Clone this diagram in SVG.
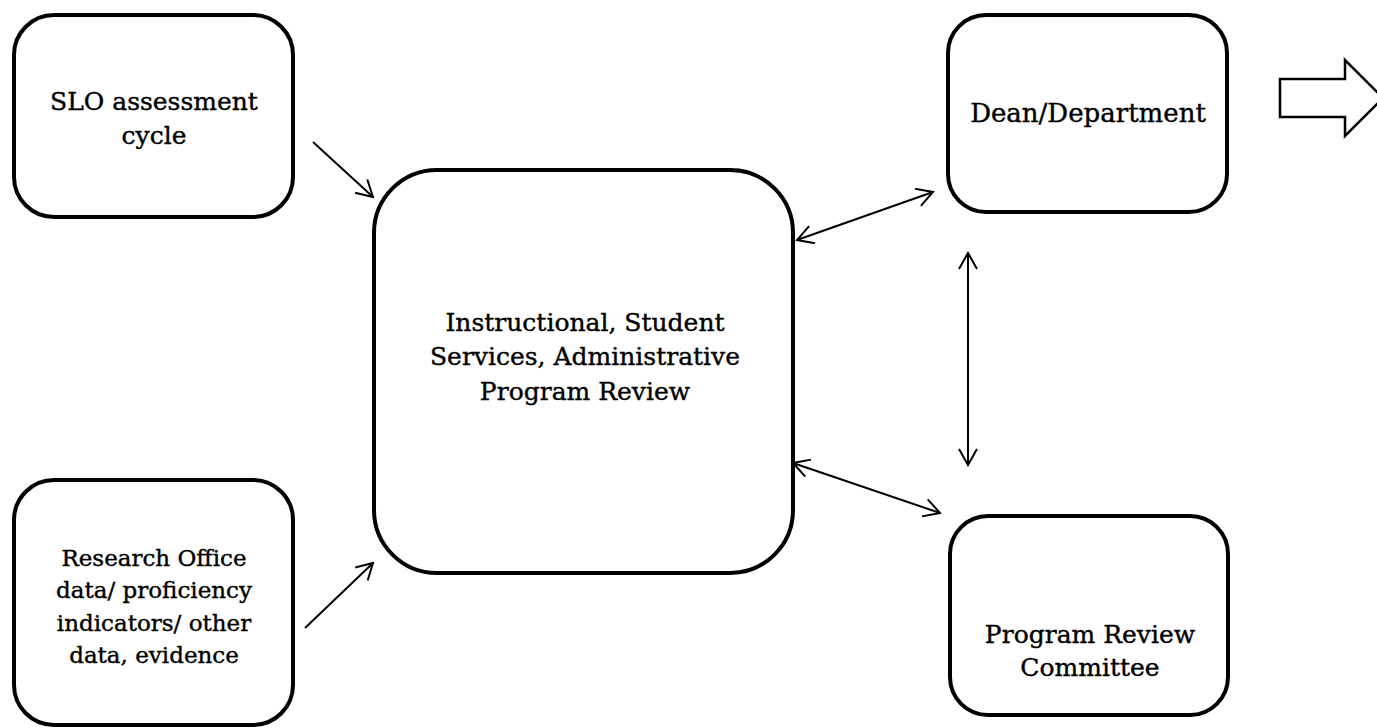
<svg xmlns="http://www.w3.org/2000/svg" width="1377" height="728" viewBox="0 0 1377 728">
<style>
.box{fill:#fff;stroke:#000;stroke-width:4}
.t{font-family:"DejaVu Serif","Liberation Serif",serif;font-size:25px;fill:#000;stroke:#000;stroke-width:0.4;text-anchor:middle}
.s{font-size:23px}
.c{fill:none;stroke:#000;stroke-width:2}
</style>
<defs>
<marker id="ah" viewBox="0 0 20 20" refX="18" refY="10" markerWidth="20" markerHeight="20" markerUnits="userSpaceOnUse" orient="auto-start-reverse">
<path d="M2,1 L18,10 L2,19" fill="none" stroke="#000" stroke-width="2"/>
</marker>
</defs>
<rect width="1377" height="728" fill="#fff"/>
<g id="slo">
<rect class="box" x="14" y="15" width="279" height="202" rx="40"/>
<text class="t" x="154" y="110">SLO assessment</text>
<text class="t" x="154" y="144">cycle</text>
</g>
<g id="research">
<rect class="box" x="14" y="480" width="279" height="245" rx="40"/>
<text class="t s" x="154" y="566">Research Office</text>
<text class="t s" x="154" y="598">data/ proficiency</text>
<text class="t s" x="154" y="631">indicators/ other</text>
<text class="t s" x="154" y="663">data, evidence</text>
</g>
<g id="program">
<rect class="box" x="374" y="170" width="419" height="403" rx="63"/>
<text class="t" x="585" y="331">Instructional, Student</text>
<text class="t" x="585" y="365">Services, Administrative</text>
<text class="t" x="585" y="400">Program Review</text>
</g>
<g id="dean">
<rect class="box" x="948" y="15" width="279" height="197" rx="38"/>
<text class="t" x="1088" y="122" style="font-size:26px">Dean/Department</text>
</g>
<g id="committee">
<rect class="box" x="950" y="516" width="278" height="199" rx="38"/>
<text class="t" x="1090" y="643">Program Review</text>
<text class="t" x="1090" y="676">Committee</text>
</g>
<g id="next">
<path d="M1280,79 L1345,79 L1345,60 L1383,98 L1345,136 L1345,117 L1280,117 Z" fill="#fff" stroke="#000" stroke-width="2.5"/>
</g>
<g id="connectors">
<line class="c" x1="313" y1="142" x2="373" y2="197" marker-end="url(#ah)"/>
<line class="c" x1="305" y1="628" x2="373" y2="563" marker-end="url(#ah)"/>
<line class="c" x1="797" y1="240" x2="933" y2="192" marker-start="url(#ah)" marker-end="url(#ah)"/>
<line class="c" x1="793" y1="463" x2="940" y2="513" marker-start="url(#ah)" marker-end="url(#ah)"/>
<line class="c" x1="968" y1="253" x2="968" y2="465" marker-start="url(#ah)" marker-end="url(#ah)"/>
</g>
</svg>
